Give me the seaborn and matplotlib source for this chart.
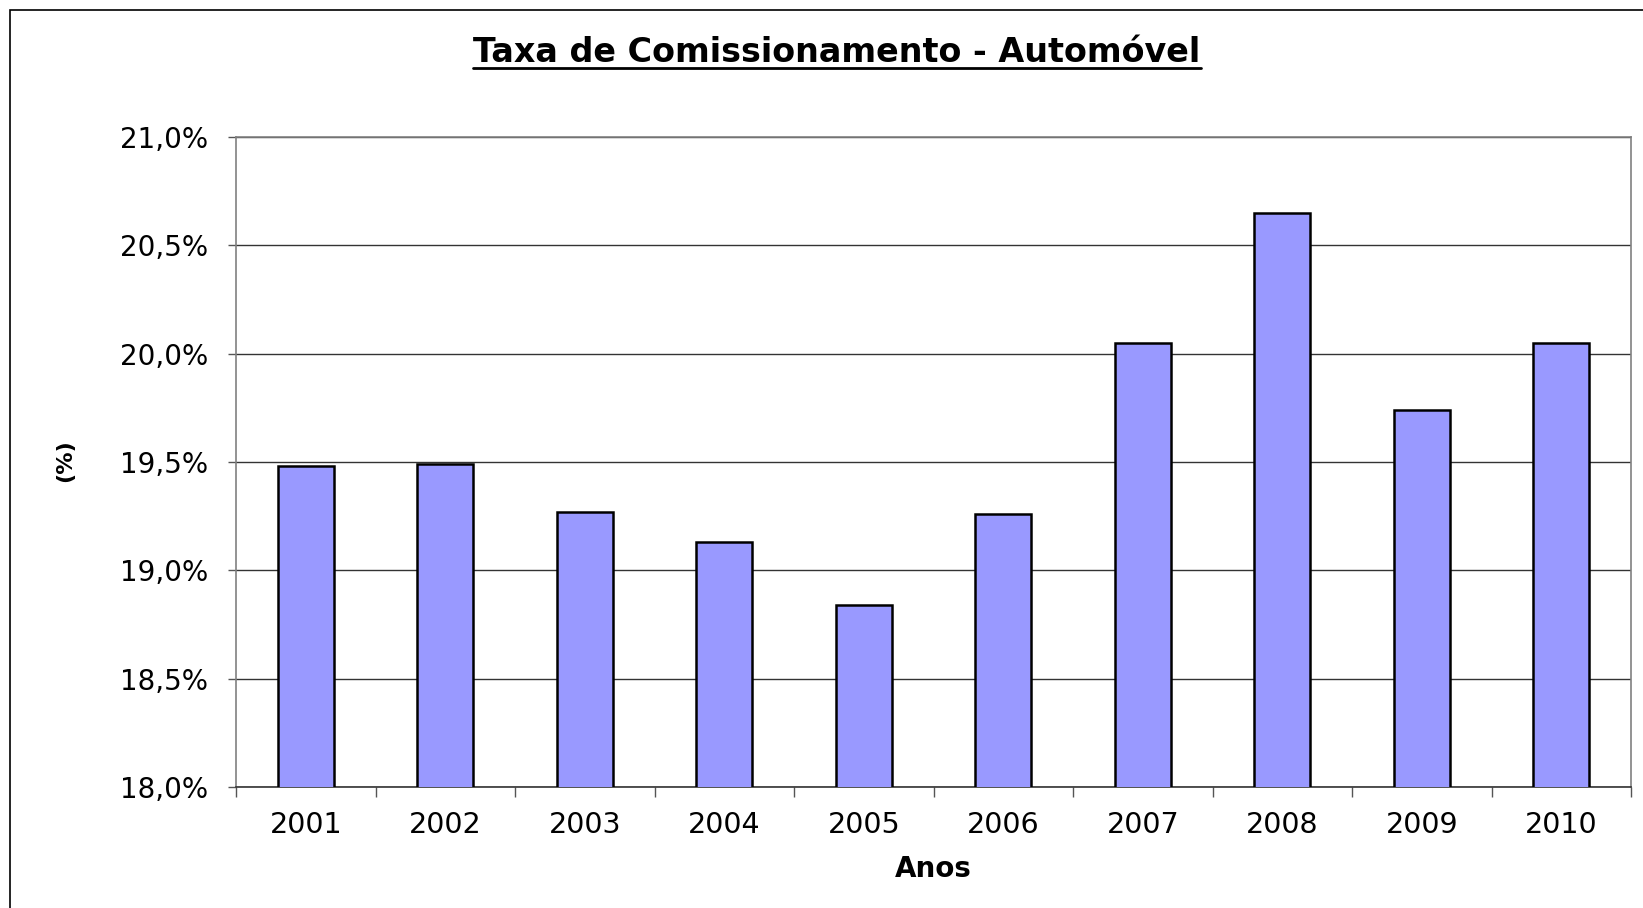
import numpy as np
import pandas as pd
import matplotlib
matplotlib.use('Agg')
import matplotlib.pyplot as plt
from matplotlib.patches import Rectangle
from matplotlib.lines import Line2D
import seaborn as sns

# data
anos = ['2001', '2002', '2003', '2004', '2005', '2006', '2007', '2008', '2009', '2010']
taxa = [19.48, 19.49, 19.27, 19.13, 18.84, 19.26, 20.05, 20.65, 19.74, 20.05]
y_ticks = [18.0, 18.5, 19.0, 19.5, 20.0, 20.5, 21.0]

df = pd.DataFrame({'Anos': anos, 'Taxa': taxa})

sns.set_style('white')
plt.rcParams['font.family'] = ['DejaVu Sans']
plt.rcParams['text.color'] = 'black'
plt.rcParams['xtick.color'] = 'black'
plt.rcParams['ytick.color'] = 'black'
plt.rcParams['axes.labelcolor'] = 'black'

fig = plt.figure(figsize=(16.43, 9.08), dpi=100)
ax = fig.add_axes([236 / 1643, 1 - 787 / 908, (1631 - 236) / 1643, (787 - 137) / 908])

sns.barplot(data=df, x='Anos', y='Taxa', color='#9999FF', width=0.4,
            edgecolor='black', linewidth=1.8, saturation=1, ax=ax, zorder=3)

ax.set_ylim(18, 21)
ax.set_xlim(-0.5, len(anos) - 0.5)
ax.set_yticks(y_ticks)
ax.set_yticklabels([f'{v:.1f}%'.replace('.', ',') for v in y_ticks], fontsize=20)
for lbl in ax.get_xticklabels():
    lbl.set_fontsize(20.5)

# gridlines
for v in y_ticks:
    ax.axhline(v, color='#333333', lw=1.0, zorder=1)

# ticks: y outward, x ticks at category boundaries
ax.tick_params(axis='y', direction='out', length=6, width=1, color='#555555', pad=14, left=True)
ax.tick_params(axis='x', which='major', length=0, pad=17)
ax.set_xticks(np.arange(-0.5, len(anos), 1), minor=True)
ax.tick_params(axis='x', which='minor', direction='out', length=7, width=1, color='#555555', bottom=True)

for side in ['left', 'right', 'top', 'bottom']:
    ax.spines[side].set_visible(True)
    ax.spines[side].set_color('#808080')
    ax.spines[side].set_linewidth(1.2)
ax.spines['bottom'].set_color('#333333')

ax.set_xlabel('Anos', fontsize=20, fontweight='bold', labelpad=12)
ax.set_ylabel('')
fig.text(65 / 1643, 1 - 461 / 908, '(%)', rotation=90, fontsize=16, fontweight='bold',
         ha='center', va='center')

# title with underline
title = fig.text(837 / 1643, 1 - 52 / 908, 'Taxa de Comissionamento - Automóvel',
                 fontsize=24, fontweight='bold', ha='center', va='center')
fig.canvas.draw()
bb = title.get_window_extent(fig.canvas.get_renderer())
y_line = (bb.y0 + 1) / fig.bbox.height
fig.add_artist(Line2D([bb.x0 / fig.bbox.width, bb.x1 / fig.bbox.width], [y_line, y_line],
                      color='black', lw=2.0, transform=fig.transFigure))

# outer chart frame
fig.add_artist(Rectangle((10 / 1643, -0.05), 1.1, 1 - 10 / 908 + 0.05, fill=False,
                         edgecolor='black', lw=1.2, transform=fig.transFigure))

fig.savefig('out.png', dpi=100)
